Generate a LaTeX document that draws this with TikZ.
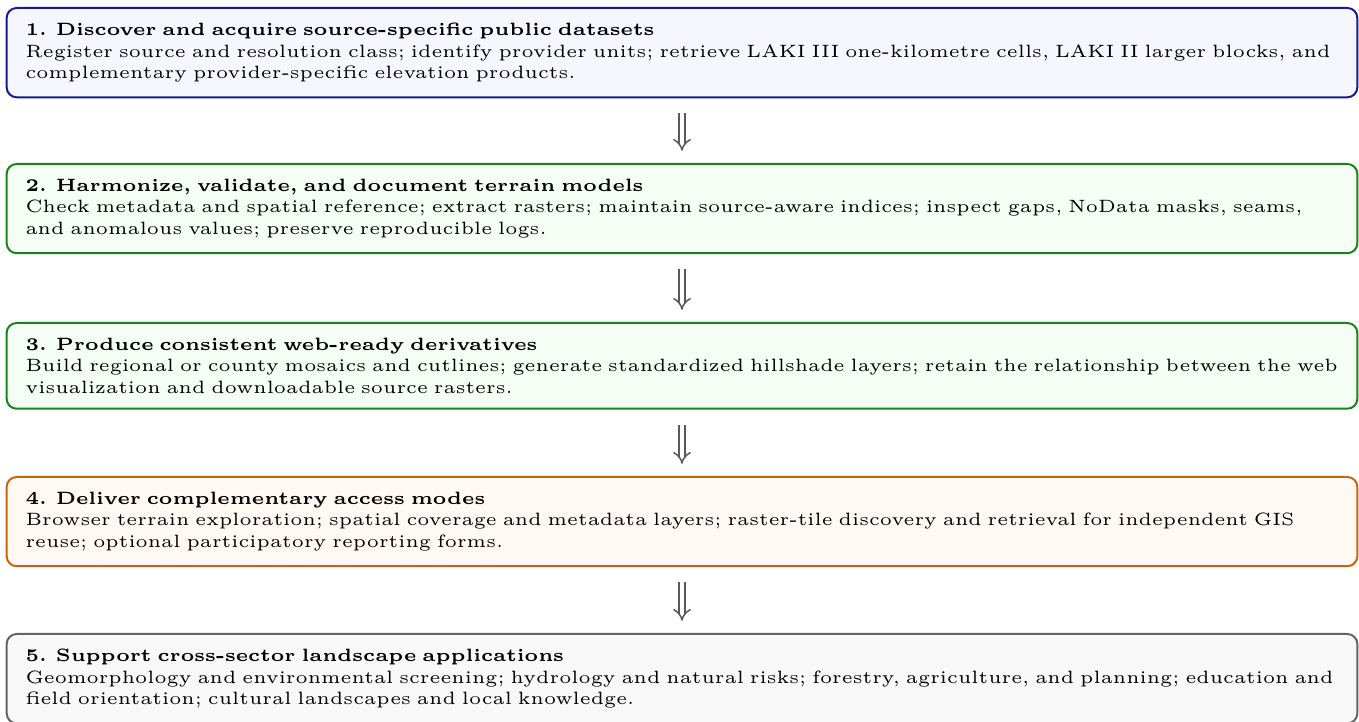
\documentclass[tikz,border=0pt]{standalone}
\usepackage{tikz}
\usetikzlibrary{arrows.meta}

\definecolor{acqline}{RGB}{25,25,145}
\definecolor{acqfill}{RGB}{245,246,255}
\definecolor{procline}{RGB}{25,130,25}
\definecolor{procfill}{RGB}{245,254,245}
\definecolor{delline}{RGB}{200,100,15}
\definecolor{delfill}{RGB}{255,248,243}
\definecolor{useline}{RGB}{100,100,100}
\definecolor{usefill}{RGB}{248,248,248}

\begin{document}
\begin{tikzpicture}[x=0.2803pt, y=-0.2803pt,
    stagebox/.style={draw, line width=0.56pt, rounded corners=2.8pt, font=\tiny,
        text width=368pt, inner xsep=5.3pt, inner ysep=4.25pt, align=left, anchor=north},
    flowarrow/.style={draw=gray!70!black, line width=0.42pt, double, double distance=1.3pt,
        -{Implies[length=4.5pt, width=6.4pt]}, shorten <=4.2pt, shorten >=3.4pt}
]
    % Picture frame
    \useasboundingbox (0,0) rectangle (1359,722);

    % Define coordinates (top of each stage)
    \coordinate (T1) at (682,7);
    \coordinate (T2) at (682,163);
    \coordinate (T3) at (682,322);
    \coordinate (T4) at (682,476);
    \coordinate (T5) at (682,633);

    % Stages
    \node[stagebox, draw=acqline, fill=acqfill] (acquire) at (T1)
        {\textbf{1. Discover and acquire source-specific public datasets}\\
        Register source and resolution class; identify provider units; retrieve LAKI III one-kilometre cells, LAKI II larger blocks, and complementary provider-specific elevation products.};
    \node[stagebox, draw=procline, fill=procfill] (harmonize) at (T2)
        {\textbf{2. Harmonize, validate, and document terrain models}\\
        Check metadata and spatial reference; extract rasters; maintain source-aware indices; inspect gaps, NoData masks, seams, and anomalous values; preserve reproducible logs.};
    \node[stagebox, draw=procline, fill=procfill] (derive) at (T3)
        {\textbf{3. Produce consistent web-ready derivatives}\\
        Build regional or county mosaics and cutlines; generate standardized hillshade layers; retain the relationship between the web visualization and downloadable source rasters.};
    \node[stagebox, draw=delline, fill=delfill] (deliver) at (T4)
        {\textbf{4. Deliver complementary access modes}\\
        Browser terrain exploration; spatial coverage and metadata layers; raster-tile discovery and retrieval for independent GIS reuse; optional participatory reporting forms.};
    \node[stagebox, draw=useline, fill=usefill] (support) at (T5)
        {\textbf{5. Support cross-sector landscape applications}\\
        Geomorphology and environmental screening; hydrology and natural risks; forestry, agriculture, and planning; education and field orientation; cultural landscapes and local knowledge.};

    % Flow between stages
    \draw[flowarrow] (acquire) -- (harmonize);
    \draw[flowarrow] (harmonize) -- (derive);
    \draw[flowarrow] (derive) -- (deliver);
    \draw[flowarrow] (deliver) -- (support);
\end{tikzpicture}
\end{document}
